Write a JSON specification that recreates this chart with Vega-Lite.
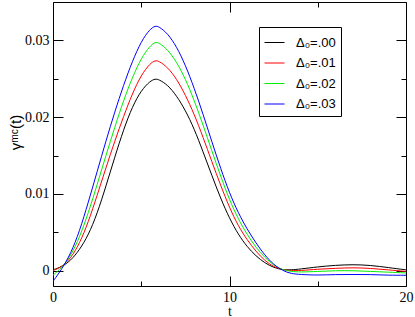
{
  "$schema": "https://vega.github.io/schema/vega-lite/v6.json",
  "width": 353,
  "height": 284,
  "autosize": {"type": "none"},
  "padding": {"left": 53, "top": 2, "right": 9, "bottom": 31},
  "config": {
    "view": {"stroke": "black", "strokeWidth": 1}
  },
  "data": {
    "values": [
      {"t": 0, "s": "Δ₀=.00", "g": 0.0001},
      {"t": 0.5, "s": "Δ₀=.00", "g": 0.0005},
      {"t": 1, "s": "Δ₀=.00", "g": 0.0013},
      {"t": 1.5, "s": "Δ₀=.00", "g": 0.0027},
      {"t": 2, "s": "Δ₀=.00", "g": 0.0046},
      {"t": 2.5, "s": "Δ₀=.00", "g": 0.0074},
      {"t": 3, "s": "Δ₀=.00", "g": 0.0110},
      {"t": 3.5, "s": "Δ₀=.00", "g": 0.0148},
      {"t": 4, "s": "Δ₀=.00", "g": 0.0184},
      {"t": 4.5, "s": "Δ₀=.00", "g": 0.0214},
      {"t": 5, "s": "Δ₀=.00", "g": 0.0235},
      {"t": 5.5, "s": "Δ₀=.00", "g": 0.0247},
      {"t": 5.8, "s": "Δ₀=.00", "g": 0.0250},
      {"t": 6, "s": "Δ₀=.00", "g": 0.0249},
      {"t": 6.5, "s": "Δ₀=.00", "g": 0.0242},
      {"t": 7, "s": "Δ₀=.00", "g": 0.0228},
      {"t": 7.5, "s": "Δ₀=.00", "g": 0.0209},
      {"t": 8, "s": "Δ₀=.00", "g": 0.0185},
      {"t": 8.5, "s": "Δ₀=.00", "g": 0.0155},
      {"t": 9, "s": "Δ₀=.00", "g": 0.0124},
      {"t": 9.5, "s": "Δ₀=.00", "g": 0.0094},
      {"t": 10, "s": "Δ₀=.00", "g": 0.0068},
      {"t": 10.5, "s": "Δ₀=.00", "g": 0.0047},
      {"t": 11, "s": "Δ₀=.00", "g": 0.0031},
      {"t": 11.5, "s": "Δ₀=.00", "g": 0.0019},
      {"t": 12, "s": "Δ₀=.00", "g": 0.0010},
      {"t": 12.5, "s": "Δ₀=.00", "g": 0.0004},
      {"t": 13, "s": "Δ₀=.00", "g": 0.0001},
      {"t": 13.5, "s": "Δ₀=.00", "g": 0.0001},
      {"t": 14, "s": "Δ₀=.00", "g": 0.0002},
      {"t": 15, "s": "Δ₀=.00", "g": 0.0005},
      {"t": 16, "s": "Δ₀=.00", "g": 0.0007},
      {"t": 17, "s": "Δ₀=.00", "g": 0.0008},
      {"t": 18, "s": "Δ₀=.00", "g": 0.0007},
      {"t": 19, "s": "Δ₀=.00", "g": 0.0004},
      {"t": 20, "s": "Δ₀=.00", "g": 0.0001},

      {"t": 0, "s": "Δ₀=.01", "g": 0.0000},
      {"t": 0.5, "s": "Δ₀=.01", "g": 0.0005},
      {"t": 1, "s": "Δ₀=.01", "g": 0.0016},
      {"t": 1.5, "s": "Δ₀=.01", "g": 0.0035},
      {"t": 2, "s": "Δ₀=.01", "g": 0.0063},
      {"t": 2.5, "s": "Δ₀=.01", "g": 0.0098},
      {"t": 3, "s": "Δ₀=.01", "g": 0.0134},
      {"t": 3.5, "s": "Δ₀=.01", "g": 0.0169},
      {"t": 4, "s": "Δ₀=.01", "g": 0.0201},
      {"t": 4.5, "s": "Δ₀=.01", "g": 0.0231},
      {"t": 5, "s": "Δ₀=.01", "g": 0.0255},
      {"t": 5.5, "s": "Δ₀=.01", "g": 0.0270},
      {"t": 5.8, "s": "Δ₀=.01", "g": 0.0274},
      {"t": 6, "s": "Δ₀=.01", "g": 0.0273},
      {"t": 6.5, "s": "Δ₀=.01", "g": 0.0265},
      {"t": 7, "s": "Δ₀=.01", "g": 0.0250},
      {"t": 7.5, "s": "Δ₀=.01", "g": 0.0229},
      {"t": 8, "s": "Δ₀=.01", "g": 0.0204},
      {"t": 8.5, "s": "Δ₀=.01", "g": 0.0174},
      {"t": 9, "s": "Δ₀=.01", "g": 0.0142},
      {"t": 9.5, "s": "Δ₀=.01", "g": 0.0111},
      {"t": 10, "s": "Δ₀=.01", "g": 0.0082},
      {"t": 10.5, "s": "Δ₀=.01", "g": 0.0058},
      {"t": 11, "s": "Δ₀=.01", "g": 0.0040},
      {"t": 11.5, "s": "Δ₀=.01", "g": 0.0025},
      {"t": 12, "s": "Δ₀=.01", "g": 0.0013},
      {"t": 12.5, "s": "Δ₀=.01", "g": 0.0005},
      {"t": 13, "s": "Δ₀=.01", "g": 0.0001},
      {"t": 13.5, "s": "Δ₀=.01", "g": 0.0000},
      {"t": 14, "s": "Δ₀=.01", "g": 0.0000},
      {"t": 15, "s": "Δ₀=.01", "g": 0.0002},
      {"t": 16, "s": "Δ₀=.01", "g": 0.0003},
      {"t": 17, "s": "Δ₀=.01", "g": 0.0004},
      {"t": 18, "s": "Δ₀=.01", "g": 0.0003},
      {"t": 19, "s": "Δ₀=.01", "g": 0.0001},
      {"t": 20, "s": "Δ₀=.01", "g": -0.0001},

      {"t": 0, "s": "Δ₀=.02", "g": -0.0006},
      {"t": 0.5, "s": "Δ₀=.02", "g": 0.0004},
      {"t": 1, "s": "Δ₀=.02", "g": 0.0019},
      {"t": 1.5, "s": "Δ₀=.02", "g": 0.0043},
      {"t": 2, "s": "Δ₀=.02", "g": 0.0075},
      {"t": 2.5, "s": "Δ₀=.02", "g": 0.0112},
      {"t": 3, "s": "Δ₀=.02", "g": 0.0150},
      {"t": 3.5, "s": "Δ₀=.02", "g": 0.0187},
      {"t": 4, "s": "Δ₀=.02", "g": 0.0222},
      {"t": 4.5, "s": "Δ₀=.02", "g": 0.0252},
      {"t": 5, "s": "Δ₀=.02", "g": 0.0277},
      {"t": 5.5, "s": "Δ₀=.02", "g": 0.0293},
      {"t": 5.8, "s": "Δ₀=.02", "g": 0.0298},
      {"t": 6, "s": "Δ₀=.02", "g": 0.0297},
      {"t": 6.5, "s": "Δ₀=.02", "g": 0.0288},
      {"t": 7, "s": "Δ₀=.02", "g": 0.0272},
      {"t": 7.5, "s": "Δ₀=.02", "g": 0.0250},
      {"t": 8, "s": "Δ₀=.02", "g": 0.0222},
      {"t": 8.5, "s": "Δ₀=.02", "g": 0.0190},
      {"t": 9, "s": "Δ₀=.02", "g": 0.0156},
      {"t": 9.5, "s": "Δ₀=.02", "g": 0.0123},
      {"t": 10, "s": "Δ₀=.02", "g": 0.0092},
      {"t": 10.5, "s": "Δ₀=.02", "g": 0.0067},
      {"t": 11, "s": "Δ₀=.02", "g": 0.0047},
      {"t": 11.5, "s": "Δ₀=.02", "g": 0.0030},
      {"t": 12, "s": "Δ₀=.02", "g": 0.0017},
      {"t": 12.5, "s": "Δ₀=.02", "g": 0.0007},
      {"t": 13, "s": "Δ₀=.02", "g": 0.0001},
      {"t": 13.5, "s": "Δ₀=.02", "g": -0.0001},
      {"t": 14, "s": "Δ₀=.02", "g": -0.0002},
      {"t": 15, "s": "Δ₀=.02", "g": -0.0001},
      {"t": 16, "s": "Δ₀=.02", "g": 0.0000},
      {"t": 17, "s": "Δ₀=.02", "g": 0.0000},
      {"t": 18, "s": "Δ₀=.02", "g": -0.0001},
      {"t": 19, "s": "Δ₀=.02", "g": -0.0002},
      {"t": 20, "s": "Δ₀=.02", "g": -0.0003},

      {"t": 0, "s": "Δ₀=.03", "g": -0.0014},
      {"t": 0.5, "s": "Δ₀=.03", "g": 0.0002},
      {"t": 1, "s": "Δ₀=.03", "g": 0.0022},
      {"t": 1.5, "s": "Δ₀=.03", "g": 0.0051},
      {"t": 2, "s": "Δ₀=.03", "g": 0.0089},
      {"t": 2.5, "s": "Δ₀=.03", "g": 0.0129},
      {"t": 3, "s": "Δ₀=.03", "g": 0.0169},
      {"t": 3.5, "s": "Δ₀=.03", "g": 0.0207},
      {"t": 4, "s": "Δ₀=.03", "g": 0.0242},
      {"t": 4.5, "s": "Δ₀=.03", "g": 0.0273},
      {"t": 5, "s": "Δ₀=.03", "g": 0.0299},
      {"t": 5.5, "s": "Δ₀=.03", "g": 0.0315},
      {"t": 5.8, "s": "Δ₀=.03", "g": 0.0319},
      {"t": 6, "s": "Δ₀=.03", "g": 0.0318},
      {"t": 6.5, "s": "Δ₀=.03", "g": 0.0309},
      {"t": 7, "s": "Δ₀=.03", "g": 0.0292},
      {"t": 7.5, "s": "Δ₀=.03", "g": 0.0268},
      {"t": 8, "s": "Δ₀=.03", "g": 0.0238},
      {"t": 8.5, "s": "Δ₀=.03", "g": 0.0204},
      {"t": 9, "s": "Δ₀=.03", "g": 0.0168},
      {"t": 9.5, "s": "Δ₀=.03", "g": 0.0133},
      {"t": 10, "s": "Δ₀=.03", "g": 0.0101},
      {"t": 10.5, "s": "Δ₀=.03", "g": 0.0075},
      {"t": 11, "s": "Δ₀=.03", "g": 0.0054},
      {"t": 11.5, "s": "Δ₀=.03", "g": 0.0036},
      {"t": 12, "s": "Δ₀=.03", "g": 0.0020},
      {"t": 12.5, "s": "Δ₀=.03", "g": 0.0008},
      {"t": 13, "s": "Δ₀=.03", "g": 0.0000},
      {"t": 13.5, "s": "Δ₀=.03", "g": -0.0004},
      {"t": 14, "s": "Δ₀=.03", "g": -0.0005},
      {"t": 15, "s": "Δ₀=.03", "g": -0.0006},
      {"t": 16, "s": "Δ₀=.03", "g": -0.0005},
      {"t": 17, "s": "Δ₀=.03", "g": -0.0005},
      {"t": 18, "s": "Δ₀=.03", "g": -0.0005},
      {"t": 19, "s": "Δ₀=.03", "g": -0.0006},
      {"t": 20, "s": "Δ₀=.03", "g": -0.0006}
    ]
  },
  "layer": [
    {
      "mark": {"type": "line", "strokeWidth": 1, "interpolate": "basis", "clip": true},
      "encoding": {
        "x": {
          "field": "t", "type": "quantitative",
          "scale": {"domain": [0, 20], "nice": false, "zero": false},
          "axis": {
            "orient": "bottom",
            "grid": false,
            "domain": false,
            "tickColor": "black",
            "values": [0, 5, 10, 15, 20],
            "tickSize": {"condition": {"test": "datum.value % 10 === 0", "value": -10}, "value": -5},
            "labelExpr": "datum.value % 10 === 0 ? datum.label : ''",
            "labelFont": "Liberation Serif",
            "labelFontSize": 14,
            "labelColor": "black",
            "labelPadding": 14,
            "labelFlush": false,
            "title": "t",
            "titleFont": "Liberation Serif",
            "titleFontSize": 14,
            "titleFontWeight": "normal",
            "titleColor": "black",
            "titleBaseline": "alphabetic",
            "titleY": 29
          }
        },
        "y": {
          "field": "g", "type": "quantitative",
          "scale": {"domain": [-0.002, 0.035], "nice": false, "zero": false},
          "axis": {
            "orient": "left",
            "grid": false,
            "domain": false,
            "tickColor": "black",
            "values": [0, 0.005, 0.01, 0.015, 0.02, 0.025, 0.03],
            "tickSize": {"condition": {"test": "abs(datum.value * 100 - round(datum.value * 100)) < 0.000001", "value": -10}, "value": -5},
            "labelExpr": "abs(datum.value * 100 - round(datum.value * 100)) < 0.000001 ? (datum.value === 0 ? '0' : format(datum.value, '.2f')) : ''",
            "labelFont": "Liberation Serif",
            "labelFontSize": 14,
            "labelColor": "black",
            "labelPadding": 14,
            "labelFlush": false,
            "title": "γᵐᶜ(t)",
            "titleFont": "Liberation Sans",
            "titleFontSize": 15,
            "titleFontWeight": "normal",
            "titleColor": "black",
            "titleX": -38,
            "titleY": 130,
            "titleAlign": "center",
            "titleBaseline": "middle",
            "titleAngle": -90
          }
        },
        "color": {
          "field": "s", "type": "nominal",
          "scale": {"domain": ["Δ₀=.00", "Δ₀=.01", "Δ₀=.02", "Δ₀=.03"], "range": ["#000000", "#ff0000", "#00ee00", "#0000ff"]},
          "legend": {
            "orient": "none",
            "legendX": 206,
            "legendY": 25,
            "title": null,
            "strokeColor": "black",
            "fillColor": "white",
            "padding": 5,
            "symbolType": "stroke",
            "symbolSize": 400,
            "symbolStrokeWidth": 1,
            "rowPadding": 2.5,
            "labelOffset": 11,
            "labelFont": "Liberation Sans",
            "labelFontSize": 13,
            "labelColor": "black"
          }
        }
      }
    },
    {
      "mark": {"type": "line", "strokeWidth": 1, "opacity": 0},
      "encoding": {
        "detail": {"field": "s"},
        "x": {
          "field": "t", "type": "quantitative",
          "axis": {
            "orient": "top",
            "grid": false,
            "domain": false,
            "tickColor": "black",
            "values": [0, 5, 10, 15, 20],
            "tickSize": {"condition": {"test": "datum.value % 10 === 0", "value": -10}, "value": -5},
            "labels": false,
            "title": null
          }
        },
        "y": {
          "field": "g", "type": "quantitative",
          "axis": {
            "orient": "right",
            "grid": false,
            "domain": false,
            "tickColor": "black",
            "values": [0, 0.005, 0.01, 0.015, 0.02, 0.025, 0.03],
            "tickSize": {"condition": {"test": "abs(datum.value * 100 - round(datum.value * 100)) < 0.000001", "value": -10}, "value": -5},
            "labels": false,
            "title": null
          }
        }
      }
    }
  ],
  "resolve": {"axis": {"x": "independent", "y": "independent"}}
}
